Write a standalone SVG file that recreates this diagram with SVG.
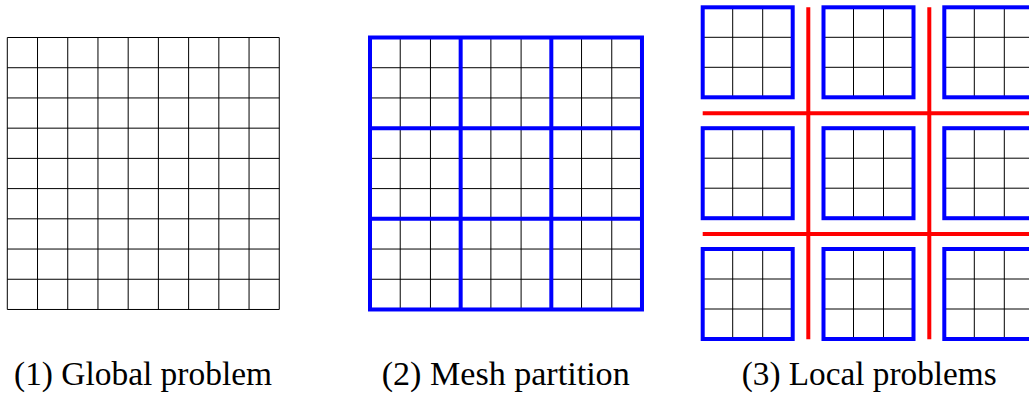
<svg xmlns="http://www.w3.org/2000/svg" xmlns:xlink="http://www.w3.org/1999/xlink" width="1029" height="399" viewBox="0 0 1029 399">
<style>
.thin{stroke:#000;stroke-width:1;fill:none}
.blue{stroke:#0000ff;stroke-width:4;fill:none}
.red{stroke:#ff0000;stroke-width:4;fill:none}
.lbl{font-family:"Liberation Serif","DejaVu Serif",serif;font-size:33px;fill:#000}
</style>
<defs>
<g id="box">
<path class="thin" d="M30 0V90M60 0V90M0 30H90M0 60H90"/>
<rect class="blue" x="0" y="0" width="90" height="90"/>
</g>
</defs>
<rect width="1029" height="399" fill="#fff"/>
<g id="panel1">
<path class="thin" d="M7.3 37.5V309.5M37.52 37.5V309.5M67.74 37.5V309.5M97.96 37.5V309.5M128.18 37.5V309.5M158.4 37.5V309.5M188.62 37.5V309.5M218.84 37.5V309.5M249.06 37.5V309.5M279.28 37.5V309.5
M7.3 37.5H279.28M7.3 67.72H279.28M7.3 97.94H279.28M7.3 128.16H279.28M7.3 158.38H279.28M7.3 188.6H279.28M7.3 218.82H279.28M7.3 249.04H279.28M7.3 279.26H279.28M7.3 309.48H279.28"/>
</g>
<g id="panel2">
<path class="thin" d="M400.22 37.5V309.5M430.44 37.5V309.5M490.88 37.5V309.5M521.1 37.5V309.5M581.54 37.5V309.5M611.76 37.5V309.5
M370 67.72H642M370 97.94H642M370 158.38H642M370 188.6H642M370 249.04H642M370 279.26H642"/>
<path class="blue" d="M460.66 37.5V309.5M551.32 37.5V309.5M370 128.16H642M370 218.82H642"/>
<rect class="blue" x="370" y="37.5" width="271.98" height="271.98"/>
</g>
<g id="panel3">
<use xlink:href="#box" x="702.7" y="7.3"/>
<use xlink:href="#box" x="823.5" y="7.3"/>
<use xlink:href="#box" x="944.3" y="7.3"/>
<use xlink:href="#box" x="702.7" y="128.2"/>
<use xlink:href="#box" x="823.5" y="128.2"/>
<use xlink:href="#box" x="944.3" y="128.2"/>
<use xlink:href="#box" x="702.7" y="249"/>
<use xlink:href="#box" x="823.5" y="249"/>
<use xlink:href="#box" x="944.3" y="249"/>
<g id="interfaces">
<path class="red" d="M808.3 7.3V339.3M929.3 7.3V339.3M702.7 113.3H1035M702.7 234H1035"/>
</g>
</g>
<g id="labels">
<text class="lbl" x="14" y="385" textLength="258" lengthAdjust="spacingAndGlyphs">(1) Global problem</text>
<text class="lbl" x="381.7" y="385" textLength="248" lengthAdjust="spacingAndGlyphs">(2) Mesh partition</text>
<text class="lbl" x="741.7" y="385" textLength="255" lengthAdjust="spacingAndGlyphs">(3) Local problems</text>
</g>
</svg>
